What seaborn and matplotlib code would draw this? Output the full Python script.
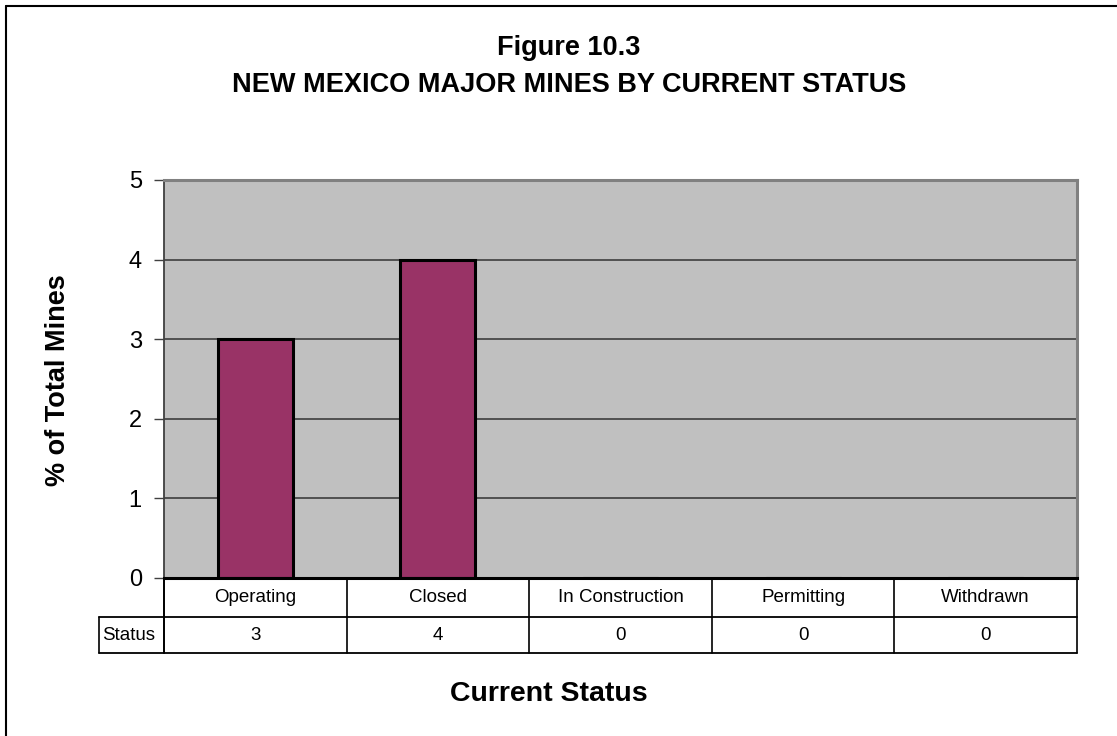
import matplotlib
matplotlib.use("Agg")
import matplotlib.pyplot as plt
from matplotlib.lines import Line2D
import matplotlib.transforms as mtransforms
import seaborn as sns
import pandas as pd

# Data
categories = ["Operating", "Closed", "In Construction", "Permitting", "Withdrawn"]
mine_counts = [3, 4, 0, 0, 0]
row_label = "Status"
y_ticks = [0, 1, 2, 3, 4, 5]

title_line1 = "Figure 10.3"
title_line2 = "NEW MEXICO MAJOR MINES BY CURRENT STATUS"
x_title = "Current Status"
y_title = "% of Total Mines"

sns.set_style("white")
plt.rcParams["font.family"] = ["Liberation Sans", "DejaVu Sans"]
plt.rcParams.update({
    "text.color": "black",
    "axes.labelcolor": "black",
    "xtick.color": "black",
    "ytick.color": "black",
})

W, H = 1117, 736
fig = plt.figure(figsize=(W / 100, H / 100), dpi=100)
fig.patch.set_facecolor("white")

def fx(px):
    return px / W

def fy(py):
    return 1 - py / H

# Plot area
left, right, top, bottom = 164, 1077, 180, 578
ax = fig.add_axes([fx(left), fy(bottom), fx(right - left), (bottom - top) / H])
ax.set_facecolor("#C0C0C0")

df = pd.DataFrame({"status": categories, "count": mine_counts})
sns.barplot(data=df, x="status", y="count", color="#993366", saturation=1,
            width=0.41, edgecolor="black", linewidth=2.2, ax=ax, zorder=3)

ax.set_ylim(0, 5)
ax.set_xlim(-0.5, len(categories) - 0.5)
ax.set_yticks(y_ticks)
ax.set_yticklabels([str(t) for t in y_ticks], fontsize=17, color="black")
ax.set_xticks([])
ax.set_xlabel("")
ax.set_ylabel("")
ax.tick_params(axis="y", direction="out", length=7, width=1, pad=9,
               color="#404040", left=True)
ax.yaxis.grid(True, color="#333333", linewidth=1.1, zorder=1)
ax.set_axisbelow(True)

for side in ["top", "right"]:
    ax.spines[side].set_color("#808080")
    ax.spines[side].set_linewidth(2.2)
ax.spines["left"].set_color("#404040")
ax.spines["left"].set_linewidth(1.3)
ax.spines["bottom"].set_color("black")
ax.spines["bottom"].set_linewidth(2.2)
ax.spines["bottom"].set_zorder(5)

# Data table below the plot (x in category units, y in axes fraction)
trans = mtransforms.blended_transform_factory(ax.transData, ax.transAxes)
plot_h = bottom - top
row1 = -(617 - bottom) / plot_h
row2 = -(653 - bottom) / plot_h
label_left = (99 - left) / (right - left)
n = len(categories)

table_lines = []
for i in range(n + 1):
    xb = i - 0.5
    table_lines.append(Line2D([xb, xb], [0, row2], transform=trans,
                              color="black", linewidth=1.2, clip_on=False))
for yb in (row1, row2):
    table_lines.append(Line2D([label_left, 1], [yb, yb], transform=ax.transAxes,
                              color="black", linewidth=1.3, clip_on=False))
table_lines.append(Line2D([label_left, label_left], [row1, row2],
                          transform=ax.transAxes, color="black",
                          linewidth=1.2, clip_on=False))
table_lines.append(Line2D([0, 0], [0, row2], transform=ax.transAxes,
                          color="black", linewidth=1.3, clip_on=False))
for ln in table_lines:
    ax.add_line(ln)

for i, (cat, val) in enumerate(zip(categories, mine_counts)):
    ax.text(i, row1 / 2, cat, transform=trans, ha="center", va="center",
            fontsize=13.5, color="black")
    ax.text(i, (row1 + row2) / 2, str(val), transform=trans, ha="center",
            va="center", fontsize=13.5, color="black")
ax.text(label_left + 0.003, (row1 + row2) / 2, row_label, transform=ax.transAxes,
        ha="left", va="center", fontsize=13.5, color="black")

# Titles
fig.text(fx(569), fy(55), title_line1, ha="center", va="baseline",
         fontsize=19.5, fontweight="bold", color="black")
fig.text(fx(569), fy(92), title_line2, ha="center", va="baseline",
         fontsize=19.5, fontweight="bold", color="black")
fig.text(fx(549), fy(701), x_title, ha="center", va="baseline",
         fontsize=20.5, fontweight="bold", color="black")
fig.text(fx(58), fy(380), y_title, ha="center", va="center", rotation=90,
         fontsize=19.5, fontweight="bold", color="black")

# Chart frame (left and top edges visible)
fig.add_artist(Line2D([fx(6), fx(6)], [fy(6), 0], transform=fig.transFigure,
                      color="black", linewidth=1.5))
fig.add_artist(Line2D([fx(6), 1], [fy(6), fy(6)], transform=fig.transFigure,
                      color="black", linewidth=1.5))

fig.savefig("out.png", dpi=100, facecolor="white")
